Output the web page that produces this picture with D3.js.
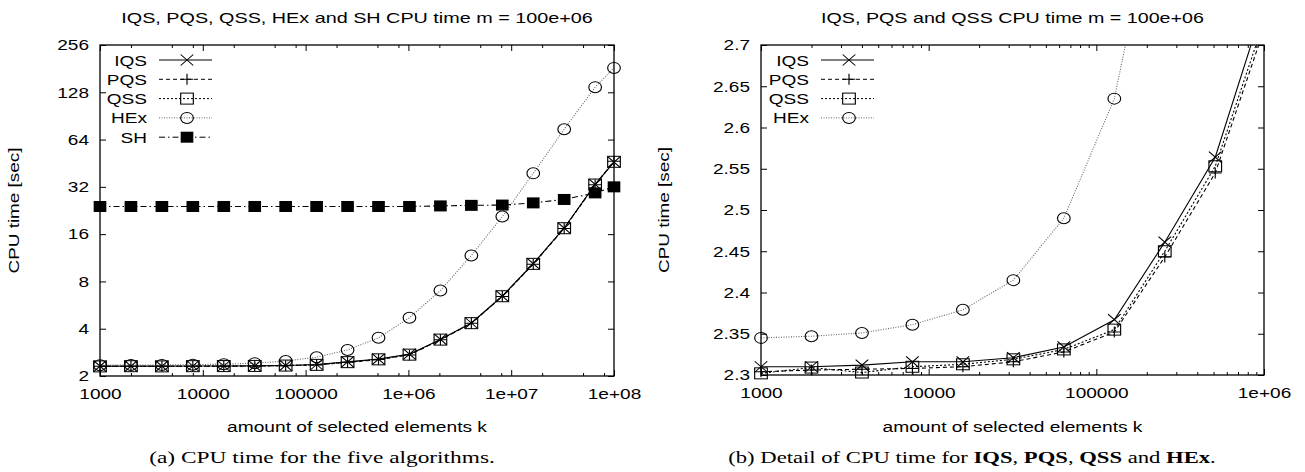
<!DOCTYPE html>
<html>
<head>
<meta charset="utf-8">
<script src="https://cdn.jsdelivr.net/npm/d3@7"></script>
<style>
  body { margin: 0; background: #fff; }
  text { font-family: "Liberation Sans", Arial, sans-serif; fill: #000; }
</style>
</head>
<body>
<svg id="chart" width="1305" height="472"></svg>
<script>
// amount of selected elements k (x values of every series)
const kValues = [1000, 2000, 4000, 8000, 16000, 32000, 64000, 128000, 256000, 512000,
  1024000, 2048000, 4096000, 8192000, 16384000, 32768000, 65536000, 100000000];

// CPU time [sec] per algorithm
const iqsTime = [2.310, 2.310, 2.312, 2.316, 2.316, 2.321, 2.334, 2.367, 2.461, 2.564,
  2.756, 3.42, 4.35, 6.45, 10.4, 17.5, 33.2, 46.0];
const pqsTime = [2.304, 2.306, 2.307, 2.308, 2.310, 2.316, 2.328, 2.352, 2.443, 2.545,
  2.725, 3.40, 4.33, 6.42, 10.3, 17.4, 33.0, 46.5];
const qssTime = [2.302, 2.309, 2.303, 2.310, 2.313, 2.319, 2.331, 2.355, 2.450, 2.553,
  2.735, 3.41, 4.34, 6.44, 10.35, 17.45, 33.1, 46.2];
const hexTime = [2.345, 2.347, 2.351, 2.361, 2.379, 2.415, 2.490, 2.635, 2.93, 3.5,
  4.7, 7.0, 11.7, 20.7, 39, 74.5, 138, 183];
const shTime = [24, 24, 24, 24, 24, 24, 24, 24, 24, 24,
  24, 24.2, 24.4, 24.5, 25.3, 26.6, 29.3, 32.0];

// tick labels
const leftXTicks = [1e3, 1e4, 1e5, 1e6, 1e7, 1e8];
const leftXLabels = ["1000", "10000", "100000", "1e+06", "1e+07", "1e+08"];
const leftYTicks = [2, 4, 8, 16, 32, 64, 128, 256];
const rightXTicks = [1e3, 1e4, 1e5, 1e6];
const rightXLabels = ["1000", "10000", "100000", "1e+06"];
const rightYTicks = [2.3, 2.35, 2.4, 2.45, 2.5, 2.55, 2.6, 2.65, 2.7];

// the original figure is stretched horizontally
const SX = 1.27;

const svg = d3.select("#chart");

const styles = {
  IQS: { dash: null, color: "#000", marker: "cross" },
  PQS: { dash: "4,3", color: "#000", marker: "plus" },
  QSS: { dash: "2,2", color: "#000", marker: "square" },
  HEx: { dash: "1,1.5", color: "#666", marker: "circle" },
  SH:  { dash: "6,3,1.5,3", color: "#000", marker: "filled" }
};

function drawMarker(g, type) {
  const s = 5.5;
  if (type === "cross") {
    g.append("path").attr("d", `M${-s},${-s}L${s},${s}M${-s},${s}L${s},${-s}`)
      .attr("stroke", "#000").attr("fill", "none");
  } else if (type === "plus") {
    g.append("path").attr("d", `M${-s},0H${s}M0,${-s}V${s}`)
      .attr("stroke", "#000").attr("fill", "none");
  } else if (type === "square") {
    g.append("rect").attr("x", -s).attr("y", -s).attr("width", 2 * s).attr("height", 2 * s)
      .attr("stroke", "#000").attr("fill", "none");
  } else if (type === "circle") {
    g.append("circle").attr("r", s).attr("stroke", "#000").attr("fill", "none");
  } else {
    g.append("rect").attr("x", -s).attr("y", -s).attr("width", 2 * s).attr("height", 2 * s)
      .attr("fill", "#000");
  }
}

function label(parent, x, y, str, size, anchor) {
  return parent.append("text")
    .attr("transform", `translate(${x},${y}) scale(${SX},1)`)
    .attr("text-anchor", anchor || "middle")
    .style("font-size", size + "px")
    .text(str);
}

// stretch a text along its writing direction to a given length
function fit(sel, x, y, width, rotate) {
  const len = sel.node().getComputedTextLength();
  sel.attr("text-anchor", "middle")
    .attr("transform", `translate(${x},${y})` + (rotate ? ` rotate(${rotate})` : "") +
      ` scale(${width / len},1)`);
  return sel;
}

function minorLog(lo, hi, mult) {
  const out = [];
  for (let d = lo; d < hi; d *= 10) mult.forEach(m => out.push(d * m));
  return out;
}

function drawPanel(cfg) {
  const { x, y, L, R, T, B, id } = cfg;
  const g = svg.append("g");

  // ticks on all four sides, pointing inward
  const bottom = g.append("g").attr("transform", `translate(0,${B})`)
    .call(d3.axisBottom(x).tickValues(cfg.xTicks).tickSizeInner(-6).tickSizeOuter(0)
      .tickPadding(12).tickFormat((d, i) => cfg.xLabels[i]));
  bottom.selectAll("text").attr("transform", `scale(${SX},1)`).attr("dy", "0.71em")
    .style("font-size", "15px").attr("fill", "#000");
  g.append("g").attr("transform", `translate(0,${B})`)
    .call(d3.axisBottom(x).tickValues(cfg.xMinor).tickSizeInner(-3).tickSizeOuter(0).tickFormat(""));
  g.append("g").attr("transform", `translate(0,${T})`)
    .call(d3.axisTop(x).tickValues(cfg.xTicks).tickSizeInner(-6).tickSizeOuter(0).tickFormat(""));
  g.append("g").attr("transform", `translate(0,${T})`)
    .call(d3.axisTop(x).tickValues(cfg.xMinor).tickSizeInner(-3).tickSizeOuter(0).tickFormat(""));

  const left = g.append("g").attr("transform", `translate(${L},0)`)
    .call(d3.axisLeft(y).tickValues(cfg.yTicks).tickSizeInner(-6).tickSizeOuter(0)
      .tickPadding(0).tickFormat(cfg.yFormat));
  left.selectAll("text").attr("x", -11 / SX).attr("transform", `scale(${SX},1)`)
    .style("font-size", "15px").attr("fill", "#000");
  g.append("g").attr("transform", `translate(${R},0)`)
    .call(d3.axisRight(y).tickValues(cfg.yTicks).tickSizeInner(-6).tickSizeOuter(0).tickFormat(""));

  g.selectAll(".domain").remove();
  g.selectAll(".tick line").attr("stroke", "#000");

  // series, clipped to the plot area
  g.append("clipPath").attr("id", id).append("rect")
    .attr("x", L).attr("y", T).attr("width", R - L).attr("height", B - T);
  const plot = g.append("g").attr("clip-path", `url(#${id})`);
  const line = d3.line().x(d => x(d[0])).y(d => y(d[1]));
  const [x0, x1] = x.domain();
  const [y0, y1] = y.domain();

  cfg.series.forEach(s => {
    const st = styles[s.name];
    const pts = kValues.map((k, i) => [k, s.values[i]]);
    plot.append("path").datum(pts).attr("d", line).attr("fill", "none")
      .attr("stroke", st.color).attr("stroke-width", 1.1)
      .attr("stroke-dasharray", st.dash);
    pts.filter(p => p[0] >= x0 && p[0] <= x1 && p[1] >= y0 && p[1] <= y1).forEach(p => {
      const m = g.append("g").attr("transform", `translate(${x(p[0])},${y(p[1])}) scale(1.15,1)`);
      drawMarker(m, st.marker);
    });
  });

  // frame
  g.append("rect").attr("x", L).attr("y", T).attr("width", R - L).attr("height", B - T)
    .attr("fill", "none").attr("stroke", "#000").attr("stroke-width", 1.3);

  // legend
  cfg.series.forEach((s, i) => {
    const st = styles[s.name];
    const ly = T + 15 + i * 19.3;
    label(g, cfg.legX, ly + 5.5, s.name, 15, "end");
    g.append("line").attr("x1", cfg.legX + 12).attr("x2", cfg.legX + 65)
      .attr("y1", ly).attr("y2", ly).attr("stroke", st.color)
      .attr("stroke-dasharray", st.dash);
    const m = g.append("g").attr("transform", `translate(${cfg.legX + 40},${ly}) scale(1.15,1)`);
    drawMarker(m, st.marker);
  });

  // texts
  fit(g.append("text").style("font-size", "14px").text(cfg.title), (L + R) / 2, 23, cfg.titleWidth);
  fit(g.append("text").style("font-size", "15px").text("amount of selected elements k"),
    (L + R) / 2, 432, 260);
  fit(g.append("text").style("font-size", "15px").text("CPU time [sec]"),
    cfg.yLabelX, (T + B) / 2, 126, -90);
}

const xLeft = d3.scaleLog().domain([1e3, 1e8]).range([100, 614]);
const yLeft = d3.scaleLog().base(2).domain([2, 256]).range([376, 45]);
drawPanel({
  id: "clipA", x: xLeft, y: yLeft, L: 100, R: 614, T: 45, B: 376,
  xTicks: leftXTicks, xLabels: leftXLabels, xMinor: minorLog(1e3, 1e8, [2, 5, 8]),
  yTicks: leftYTicks, yFormat: d3.format("d"),
  title: "IQS, PQS, QSS, HEx and SH CPU time m = 100e+06", titleWidth: 472,
  legX: 147, yLabelX: 19,
  series: [
    { name: "IQS", values: iqsTime },
    { name: "PQS", values: pqsTime },
    { name: "QSS", values: qssTime },
    { name: "HEx", values: hexTime },
    { name: "SH", values: shTime }
  ]
});

const xRight = d3.scaleLog().domain([1e3, 1e6]).range([761, 1264]);
const yRight = d3.scaleLinear().domain([2.3, 2.7]).range([375, 45]);
drawPanel({
  id: "clipB", x: xRight, y: yRight, L: 761, R: 1264, T: 45, B: 375,
  xTicks: rightXTicks, xLabels: rightXLabels, xMinor: minorLog(1e3, 1e6, [2, 3, 4, 5, 6, 7, 8, 9]),
  yTicks: rightYTicks, yFormat: d => String(+d.toFixed(2)),
  title: "IQS, PQS and QSS CPU time m = 100e+06", titleWidth: 383,
  legX: 809, yLabelX: 669,
  series: [
    { name: "IQS", values: iqsTime },
    { name: "PQS", values: pqsTime },
    { name: "QSS", values: qssTime },
    { name: "HEx", values: hexTime }
  ]
});

// captions (serif, like the LaTeX document)
const capA = svg.append("text")
  .style("font-family", '"Liberation Serif", serif').style("font-size", "17px")
  .text("(a) CPU time for the five algorithms.");
fit(capA, 322, 463, 346);

const capB = svg.append("text")
  .style("font-family", '"Liberation Serif", serif').style("font-size", "17px");
const capParts = [["(b) Detail of CPU time for ", false], ["IQS", true], [", ", false],
  ["PQS", true], [", ", false], ["QSS", true], [" and ", false], ["HEx", true], [".", false]];
capParts.forEach(([t, b]) => capB.append("tspan").style("font-weight", b ? "bold" : "normal").text(t));
fit(capB, 972, 463, 488);
</script>
</body>
</html>
